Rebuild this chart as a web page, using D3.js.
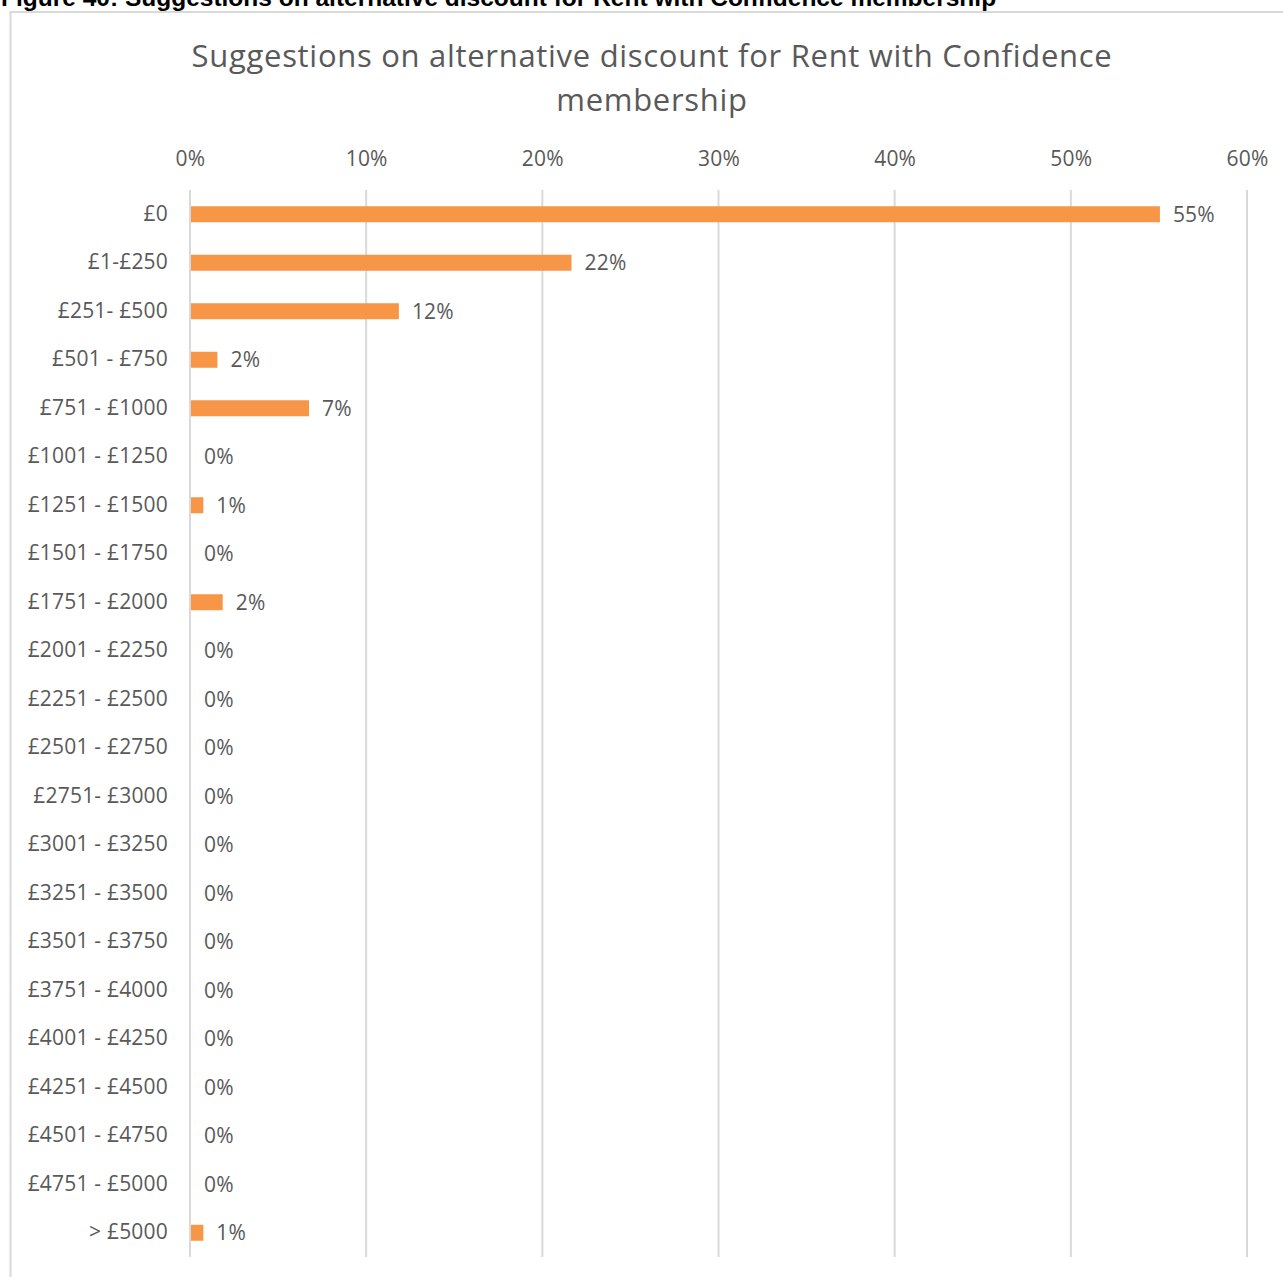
<!DOCTYPE html>
<html>
<head>
<meta charset="utf-8">
<script src="https://cdn.jsdelivr.net/npm/d3@7"></script>
<style>
  html, body { margin: 0; padding: 0; background: #fff; }
  svg { display: block; }
</style>
</head>
<body>
<svg id="chart" width="1283" height="1277"></svg>
<script>
const categories = ["£0", "£1-£250", "£251- £500", "£501 - £750", "£751 - £1000", "£1001 - £1250", "£1251 - £1500", "£1501 - £1750", "£1751 - £2000", "£2001 - £2250", "£2251 - £2500", "£2501 - £2750", "£2751- £3000", "£3001 - £3250", "£3251 - £3500", "£3501 - £3750", "£3751 - £4000", "£4001 - £4250", "£4251 - £4500", "£4501 - £4750", "£4751 - £5000", "> £5000"];
const values = [55.0, 21.6, 11.8, 1.5, 6.7, 0, 0.7, 0, 1.8, 0, 0, 0, 0, 0, 0, 0, 0, 0, 0, 0, 0, 0.7];
const xTicks = [0, 10, 20, 30, 40, 50, 60];
const captionText = "Figure 40: Suggestions on alternative discount for Rent with Confidence membership";
const titleLines = ["Suggestions on alternative discount for Rent with Confidence", "membership"];

const svg = d3.select("#chart");
const font = "'Open Sans', 'Liberation Sans', sans-serif";
const textColor = "#595959";

// caption (cropped at top)
svg.append("text").attr("x", 1).attr("y", 6)
  .attr("font-family", "'Liberation Sans', Arial, sans-serif").attr("font-weight", "bold")
  .attr("font-size", 24.5).attr("fill", "#000").text(captionText);

// chart frame
svg.append("rect").attr("x", 10.5).attr("y", 12).attr("width", 1290).attr("height", 1300)
  .attr("fill", "#fff").attr("stroke", "#d9d9d9").attr("stroke-width", 2);

// title
svg.append("g").selectAll("text").data(titleLines).join("text")
  .attr("x", 652).attr("y", (d, i) => 67 + i * 44)
  .attr("text-anchor", "middle").attr("font-family", font)
  .attr("font-size", 31).attr("letter-spacing", 0.7).attr("fill", textColor).text(d => d);

const x = d3.scaleLinear().domain([0, 60]).range([190, 1247]);
const y = d3.scaleBand().domain(categories).range([190, 1257]).paddingInner(0.67).paddingOuter(0.335);

// gridlines
svg.append("g").selectAll("line").data(xTicks).join("line")
  .attr("x1", d => x(d)).attr("x2", d => x(d)).attr("y1", 190).attr("y2", 1257)
  .attr("stroke", "#d9d9d9").attr("stroke-width", 2);

// top axis labels
const xAxis = d3.axisTop(x).tickValues(xTicks).tickFormat(d => d + "%").tickSize(0).tickPadding(0);
const gx = svg.append("g").attr("transform", "translate(0,166)").call(xAxis);
gx.select(".domain").remove();
gx.selectAll("text").attr("font-family", font).attr("font-size", 21).attr("letter-spacing", 0.2).attr("fill", textColor);

// y axis labels
const yAxis = d3.axisLeft(y).tickSize(0).tickPadding(22);
const gy = svg.append("g").attr("transform", "translate(190,0)").call(yAxis);
gy.select(".domain").remove();
gy.selectAll("text").attr("font-family", font).attr("font-size", 21).attr("letter-spacing", 0.2).attr("fill", textColor);

const data = categories.map((c, i) => ({ c, v: values[i] }));

// bars
svg.append("g").selectAll("rect").data(data).join("rect")
  .attr("x", x(0) + 1).attr("y", d => y(d.c))
  .attr("width", d => Math.max(0, x(d.v) - x(0)))
  .attr("height", y.bandwidth())
  .attr("fill", "#F79646");

// value labels
svg.append("g").selectAll("text").data(data).join("text")
  .attr("x", d => x(d.v) + 14).attr("y", d => y(d.c) + y.bandwidth() / 2)
  .attr("dy", "0.35em")
  .attr("font-family", font).attr("font-size", 21).attr("letter-spacing", 0.2).attr("fill", textColor)
  .text(d => Math.round(d.v) + "%");
</script>
</body>
</html>
